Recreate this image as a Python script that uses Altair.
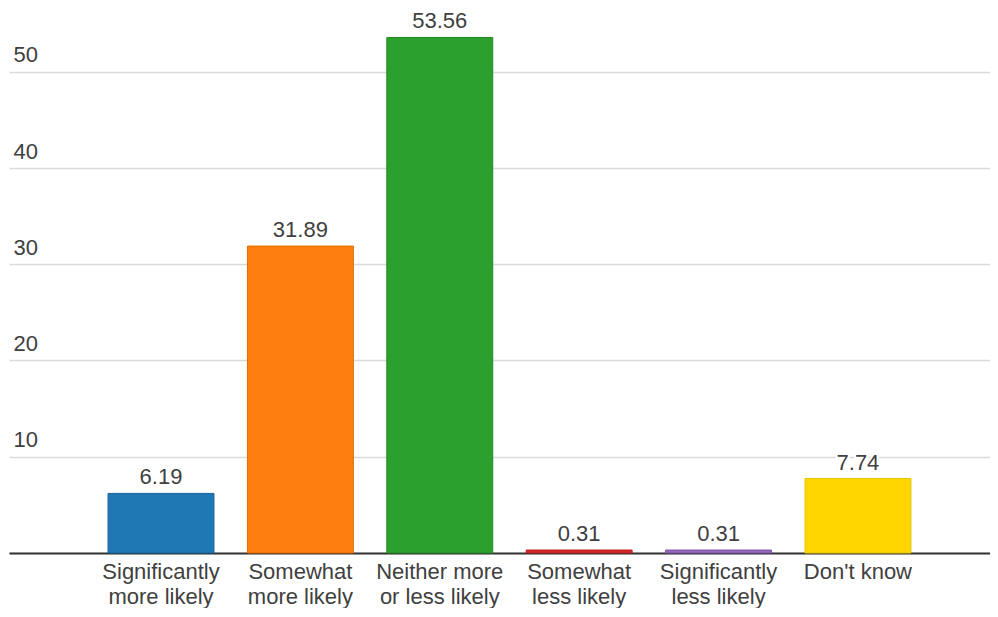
import altair as alt
import pandas as pd

categories = [
    "Significantly\nmore likely",
    "Somewhat\nmore likely",
    "Neither more\nor less likely",
    "Somewhat\nless likely",
    "Significantly\nless likely",
    "Don't know",
]
values = [6.19, 31.89, 53.56, 0.31, 0.31, 7.74]
fills = ["#1f77b4", "#ff7f0e", "#2ca02c", "#d62728", "#9467bd", "#ffd700"]
strokes = ["#18639a", "#e06d05", "#248a24", "#b81f20", "#7f55a8", "#e8c400"]
y_ticks = [0, 10, 20, 30, 40, 50]

df = pd.DataFrame({"cat": categories, "val": values, "fill": fills, "stroke": strokes})

FONT = "Liberation Sans"
TXT = "#404040"

x = alt.X(
    "cat:N",
    sort=categories,
    title=None,
    scale=alt.Scale(paddingInner=0.24, paddingOuter=0.639, align=0.556),
    axis=alt.Axis(
        labelAngle=0,
        labelExpr="split(datum.label, '\\n')",
        labelFont=FONT,
        labelFontSize=22,
        labelColor=TXT,
        labelLineHeight=25,
        labelPadding=8,
        labelBaseline="top",
        ticks=False,
        tickSize=0,
        domainColor="#333333",
        domainWidth=2,
        grid=False,
    ),
)
y = alt.Y(
    "val:Q",
    title=None,
    scale=alt.Scale(domain=[0, 56], nice=False),
    axis=alt.Axis(
        values=y_ticks,
        labelExpr="datum.value == 0 ? '' : datum.label",
        labelAlign="left",
        labelBaseline="alphabetic",
        labelOffset=-10,
        labelPadding=-4,
        labelFont=FONT,
        labelFontSize=22,
        labelColor=TXT,
        ticks=False,
        tickSize=0,
        domain=False,
        grid=True,
        gridColor="#d9d9d9",
        gridWidth=1.5,
    ),
)

base = alt.Chart(df)
bars = base.mark_bar(strokeWidth=1).encode(
    x=x,
    y=y,
    fill=alt.Fill("fill:N", scale=None, legend=None),
    stroke=alt.Stroke("stroke:N", scale=None, legend=None),
)
halo = base.mark_text(
    baseline="alphabetic", dy=-9, font=FONT, fontSize=22,
    stroke="white", strokeWidth=4, fill="white"
).encode(x=alt.X("cat:N", sort=categories), y="val:Q", text=alt.Text("val:Q", format=".2f"))
labels = base.mark_text(
    baseline="alphabetic", dy=-9, font=FONT, fontSize=22, color=TXT
).encode(x=alt.X("cat:N", sort=categories), y="val:Q", text=alt.Text("val:Q", format=".2f"))

chart = (
    alt.layer(bars, halo, labels)
    .properties(
        width=981,
        height=539,
        autosize=alt.AutoSizeParams(type="none"),
        padding={"left": 1, "top": 6, "right": 0, "bottom": 55},
    )
    .configure_view(stroke=None)
)

chart.save("out.html", embed_options={"renderer": "svg", "actions": False})
